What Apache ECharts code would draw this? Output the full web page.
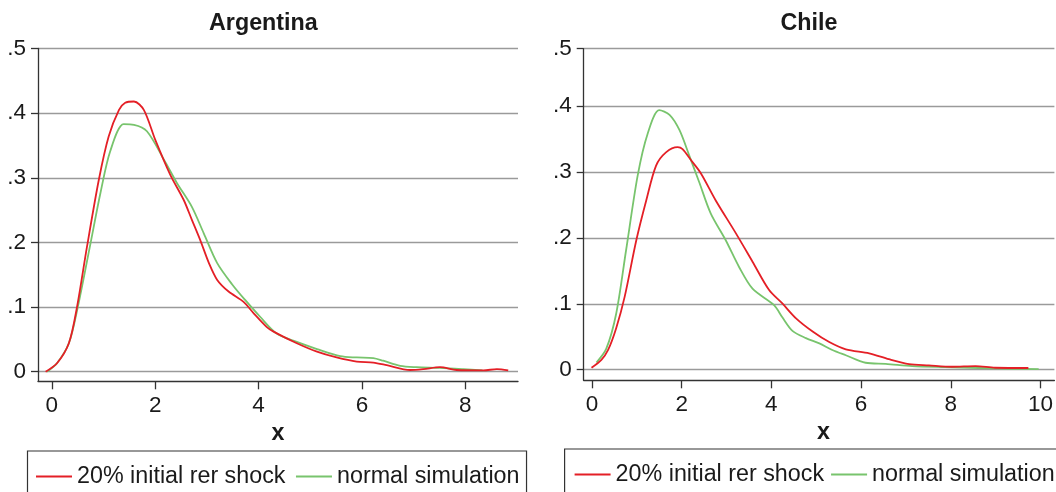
<!DOCTYPE html>
<html>
<head>
<meta charset="utf-8">
<script src="https://cdn.jsdelivr.net/npm/echarts@6/dist/echarts.min.js"></script>
<style>
html,body{margin:0;padding:0;background:#fff;}
#chart{width:1056px;height:492px;}
</style>
</head>
<body>
<div id="chart"></div>
<script>
// ---------- data ----------
const panelTitles = ['Argentina', 'Chile'];
const seriesNames = ['20% initial rer shock', 'normal simulation'];

const argRedX = [-0.12, 0.10, 0.33, 0.49, 0.68, 0.91, 1.10, 1.30, 1.42, 1.59, 1.78, 2.00, 2.29, 2.55, 2.71, 2.87, 3.04, 3.20, 3.42, 3.71, 3.91, 4.16, 4.29, 4.74, 5.13, 5.51, 5.90, 6.22, 6.48, 6.93, 7.19, 7.51, 7.83, 8.35, 8.61, 8.83];
const argRedY = [0, 0.013, 0.044, 0.101, 0.193, 0.297, 0.364, 0.405, 0.416, 0.418, 0.405, 0.359, 0.305, 0.266, 0.235, 0.204, 0.168, 0.142, 0.124, 0.108, 0.090, 0.069, 0.062, 0.044, 0.031, 0.022, 0.0155, 0.014, 0.010, 0.0026, 0.004, 0.007, 0.0026, 0.002, 0.004, 0.002];

const argGreenX = [-0.09, 0.10, 0.33, 0.49, 0.75, 0.94, 1.13, 1.39, 1.59, 1.84, 2.17, 2.42, 2.71, 2.94, 3.20, 3.49, 3.74, 4.03, 4.35, 4.74, 5.13, 5.58, 5.90, 6.22, 6.41, 6.74, 7.06, 7.51, 7.96, 8.33];
const argGreenY = [0, 0.013, 0.044, 0.095, 0.199, 0.276, 0.341, 0.383, 0.382, 0.372, 0.328, 0.292, 0.255, 0.214, 0.168, 0.135, 0.111, 0.085, 0.059, 0.046, 0.035, 0.024, 0.022, 0.021, 0.017, 0.009, 0.007, 0.006, 0.004, 0.002];

const chiRedX = [-0.01, 0.21, 0.36, 0.54, 0.73, 0.99, 1.21, 1.43, 1.65, 1.91, 2.02, 2.21, 2.43, 2.76, 3.21, 3.58, 3.95, 4.24, 4.55, 4.92, 5.29, 5.66, 6.18, 6.62, 7.07, 7.51, 8.03, 8.55, 8.99, 9.73];
const chiRedY = [0.003, 0.015, 0.030, 0.063, 0.111, 0.197, 0.257, 0.310, 0.330, 0.338, 0.335, 0.318, 0.298, 0.257, 0.207, 0.164, 0.121, 0.101, 0.078, 0.058, 0.042, 0.031, 0.025, 0.016, 0.0086, 0.0066, 0.0045, 0.0056, 0.003, 0.0026];

const chiGreenX = [0.10, 0.32, 0.54, 0.76, 1.02, 1.24, 1.50, 1.73, 1.95, 2.17, 2.39, 2.65, 2.98, 3.28, 3.58, 4.06, 4.24, 4.47, 4.77, 5.07, 5.36, 5.66, 6.10, 6.55, 7.14, 7.88, 8.62, 9.36, 9.96];
const chiGreenY = [0.011, 0.032, 0.085, 0.181, 0.295, 0.358, 0.394, 0.387, 0.364, 0.325, 0.285, 0.237, 0.197, 0.156, 0.123, 0.098, 0.080, 0.059, 0.048, 0.040, 0.030, 0.022, 0.0106, 0.009, 0.0056, 0.004, 0.0026, 0.0015, 0.001];

// tick values / labels
const argXTicks = [0, 2, 4, 6, 8];
const chiXTicks = [0, 2, 4, 6, 8, 10];
const argYTicks = [0, 0.1, 0.2, 0.3, 0.4, 0.5];
const chiYTicks = [0, 0.1, 0.2, 0.3, 0.4, 0.4874];
const yTickLabels = ['0', '.1', '.2', '.3', '.4', '.5'];

// ---------- chart ----------
const FONT = '"Liberation Sans", Arial, Helvetica, sans-serif';
const TXT = '#1a1a1a';
const RED = '#e41f26';
const GREEN = '#78c46d';

function zip(xs, ys) { return xs.map((x, i) => [x, ys[i]]); }
function yLabelFor(ticks) {
  return function (v) {
    let best = 0, bd = Infinity;
    ticks.forEach((t, i) => { const d = Math.abs(t - v); if (d < bd) { bd = d; best = i; } });
    return yTickLabels[best];
  };
}

function xAxisCfg(gridIndex, min, max, ticks, namePad) {
  return {
    type: 'value', gridIndex, min, max,
    name: 'x', nameLocation: 'middle', nameGap: 37,
    nameTextStyle: { fontFamily: FONT, fontSize: 23.3, fontWeight: 'bold', color: TXT, padding: namePad },
    axisLine: { show: true, onZero: false, lineStyle: { color: '#333', width: 1.3 } },
    axisTick: { show: true, length: 8, customValues: ticks, lineStyle: { color: '#333', width: 1.3 } },
    axisLabel: { customValues: ticks, margin: 13, fontFamily: FONT, fontSize: 22.5, color: TXT, formatter: v => String(v) },
    splitLine: { show: false }
  };
}
function yAxisCfg(gridIndex, min, max, ticks) {
  return {
    type: 'value', gridIndex, min, max,
    axisLine: { show: true, onZero: false, lineStyle: { color: '#333', width: 1.3 } },
    axisTick: { show: true, length: 7, customValues: ticks, lineStyle: { color: '#333', width: 1.3 } },
    axisLabel: { customValues: ticks, margin: 12, fontFamily: FONT, fontSize: 22.5, color: TXT, formatter: yLabelFor(ticks) },
    splitLine: { show: true, lineStyle: { color: '#9a9a9a', width: 1.3 } }
  };
}
function lineSeries(name, xi, data, color) {
  return {
    name, type: 'line', xAxisIndex: xi, yAxisIndex: xi, data,
    showSymbol: false, symbol: 'none', smooth: 0.3,
    lineStyle: { color, width: 1.8 }, itemStyle: { color },
    z: name === seriesNames[0] ? 3 : 2
  };
}
const legendCommon = {
  orient: 'horizontal', icon: 'rect', itemWidth: 36, itemHeight: 2,
  borderColor: '#333', borderWidth: 1.2, backgroundColor: '#fff',
  textStyle: { fontFamily: FONT, fontSize: 23.3, color: TXT },
  data: seriesNames, selectedMode: false, width: 800
};

const option = {
  animation: false,
  backgroundColor: '#fff',
  title: [
    { text: panelTitles[0], left: 263.4, top: 12.5, padding: 0, textAlign: 'center',
      textStyle: { fontFamily: FONT, fontSize: 23.3, fontWeight: 'bold', color: TXT } },
    { text: panelTitles[1], left: 809, top: 12.5, padding: 0, textAlign: 'center',
      textStyle: { fontFamily: FONT, fontSize: 23.3, fontWeight: 'bold', color: TXT } }
  ],
  legend: [
    Object.assign({}, legendCommon, { left: 27.5, top: 451, padding: [14, 7, 30, 8.5], itemGap: 10.5 }),
    Object.assign({}, legendCommon, { left: 564.6, top: 449, padding: [14, 40, 30, 10], itemGap: 7 })
  ],
  grid: [
    { left: 38, top: 48.5, width: 480, height: 332.8, containLabel: false },
    { left: 583.7, top: 48.7, right: 0, height: 331.6, containLabel: false }
  ],
  xAxis: [
    xAxisCfg(0, -0.267, 9.019, argXTicks, 0),
    xAxisCfg(1, -0.184, 10.31, chiXTicks, [0, 0, 0, 9])
  ],
  yAxis: [
    yAxisCfg(0, -0.01486, 0.5, argYTicks),
    yAxisCfg(1, -0.01606, 0.4874, chiYTicks)
  ],
  series: [
    lineSeries(seriesNames[0], 0, zip(argRedX, argRedY), RED),
    lineSeries(seriesNames[1], 0, zip(argGreenX, argGreenY), GREEN),
    lineSeries(seriesNames[0], 1, zip(chiRedX, chiRedY), RED),
    lineSeries(seriesNames[1], 1, zip(chiGreenX, chiGreenY), GREEN)
  ]
};

const chart = echarts.init(document.getElementById('chart'), null, { renderer: 'canvas' });
chart.setOption(option);
</script>
</body>
</html>
